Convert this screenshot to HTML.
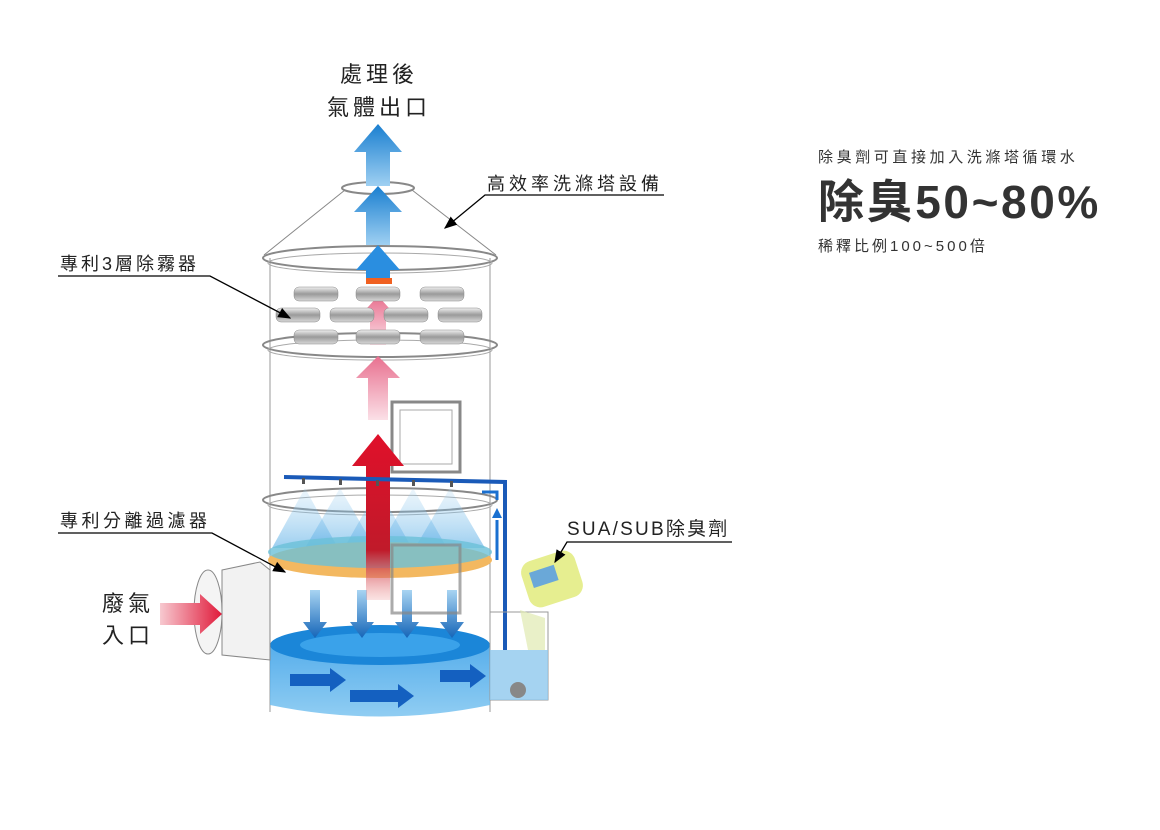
<!DOCTYPE html>
<html><head><meta charset="utf-8"><style>
html,body{margin:0;padding:0;background:#fff;width:1160px;height:830px;overflow:hidden}
svg{display:block}
text{font-family:"Liberation Sans","Noto Sans CJK TC",sans-serif}
</style></head><body>
<svg width="1160" height="830" viewBox="0 0 1160 830" xmlns="http://www.w3.org/2000/svg">
<defs>
<linearGradient id="bl" x1="0" y1="0" x2="0" y2="1"><stop offset="0" stop-color="#1a7fd0"/><stop offset="1" stop-color="#9fd0f2"/></linearGradient>
<linearGradient id="pk" x1="0" y1="0" x2="0" y2="1"><stop offset="0" stop-color="#e8708f"/><stop offset="1" stop-color="#fbe0e7"/></linearGradient>
<linearGradient id="rd" x1="0" y1="0" x2="0" y2="1"><stop offset="0" stop-color="#e0102a"/><stop offset="0.7" stop-color="#c01a2a"/><stop offset="1" stop-color="#f0a0a0" stop-opacity="0.3"/></linearGradient>
<linearGradient id="gr" x1="0" y1="0" x2="0" y2="1"><stop offset="0" stop-color="#f0f0f0"/><stop offset="0.5" stop-color="#9a9a9a"/><stop offset="1" stop-color="#d8d8d8"/></linearGradient>
<linearGradient id="wt" x1="0" y1="0" x2="0" y2="1"><stop offset="0" stop-color="#3aa0e8"/><stop offset="1" stop-color="#7cc4f0"/></linearGradient>
<linearGradient id="sp" x1="0" y1="0" x2="0" y2="1"><stop offset="0" stop-color="#9fd0f0" stop-opacity="0.2"/><stop offset="1" stop-color="#5aaee6" stop-opacity="0.6"/></linearGradient>
<linearGradient id="ha" x1="0" y1="0" x2="1" y2="0"><stop offset="0" stop-color="#f7c9d0"/><stop offset="1" stop-color="#e01a3a"/></linearGradient>
<linearGradient id="da" x1="0" y1="0" x2="0" y2="1"><stop offset="0" stop-color="#a8d4f2"/><stop offset="1" stop-color="#1565b8"/></linearGradient>
<marker id="ah" markerWidth="10" markerHeight="10" refX="9" refY="5" orient="auto"><path d="M0,1 L10,5 L0,9 z" fill="#000"/></marker>
</defs>

<line x1="270" y1="258" x2="270" y2="712" stroke="#999" stroke-width="1"/>
<line x1="490" y1="258" x2="490" y2="712" stroke="#999" stroke-width="1"/>
<path d="M264,255 L345,190 M496,255 L412,190" stroke="#888" fill="none"/>
<ellipse cx="378" cy="188" rx="36" ry="6" fill="none" stroke="#888" stroke-width="2"/>
<ellipse cx="380" cy="258" rx="117" ry="12" fill="none" stroke="#888" stroke-width="2"/>
<ellipse cx="380" cy="263" rx="112" ry="10" fill="none" stroke="#aaa" stroke-width="1"/>
<ellipse cx="380" cy="345" rx="117" ry="12" fill="none" stroke="#888" stroke-width="2"/>
<ellipse cx="380" cy="350" rx="112" ry="10" fill="none" stroke="#aaa" stroke-width="1"/>
<ellipse cx="380" cy="500" rx="117" ry="12" fill="none" stroke="#888" stroke-width="2"/>
<ellipse cx="380" cy="505" rx="112" ry="10" fill="none" stroke="#aaa" stroke-width="1"/>

<g fill="url(#sp)">
<polygon points="305,488 272,548 338,548"/>
<polygon points="340,488 305,548 375,548"/>
<polygon points="378,488 343,550 413,550"/>
<polygon points="413,488 378,550 448,550"/>
<polygon points="450,488 415,548 485,548"/>
</g>
<ellipse cx="380" cy="560" rx="112" ry="18" fill="#f3b860"/>
<ellipse cx="380" cy="552" rx="112" ry="16" fill="#6cc0d8" opacity="0.8"/>

<path d="M270,645 L270,705 Q380,728 490,705 L490,645 Z" fill="url(#wt)" opacity="0.85"/>
<ellipse cx="380" cy="645" rx="110" ry="20" fill="#1b86d8"/>
<ellipse cx="380" cy="645" rx="80" ry="12" fill="#3aa2ea"/>
<g fill="#1460c0">
<polygon points="290,674 330,674 330,668 346,680 330,692 330,686 290,686"/>
<polygon points="350,690 398,690 398,684 414,696 398,708 398,702 350,702"/>
<polygon points="440,670 470,670 470,664 486,676 470,688 470,682 440,682"/>
</g>
<g fill="url(#da)">
<polygon points="310,590 320,590 320,622 327,622 315,638 303,622 310,622"/>
<polygon points="357,590 367,590 367,622 374,622 362,638 350,622 357,622"/>
<polygon points="402,590 412,590 412,622 419,622 407,638 395,622 402,622"/>
<polygon points="447,590 457,590 457,622 464,622 452,638 440,622 447,622"/>
</g>

<rect x="392" y="402" width="68" height="70" fill="none" stroke="#888" stroke-width="3"/>
<rect x="400" y="410" width="52" height="54" fill="none" stroke="#aaa"/>
<rect x="392" y="545" width="68" height="68" fill="none" stroke="#888" stroke-width="3" opacity="0.7"/>

<path d="M366,600 L366,466 L352,466 L378,434 L404,466 L390,466 L390,600 Z" fill="url(#rd)"/>
<path d="M368,420 L368,378 L356,378 L378,356 L400,378 L388,378 L388,420 Z" fill="url(#pk)"/>
<path d="M370,345 L370,318 L358,318 L378,296 L398,318 L386,318 L386,345 Z" fill="url(#pk)"/>
<rect x="366" y="278" width="26" height="6" fill="#f06020"/>

<g fill="url(#gr)" stroke="#888" stroke-width="0.5">
<rect x="294" y="287" width="44" height="14" rx="5"/>
<rect x="356" y="287" width="44" height="14" rx="5"/>
<rect x="420" y="287" width="44" height="14" rx="5"/>
<rect x="276" y="308" width="44" height="14" rx="5"/>
<rect x="330" y="308" width="44" height="14" rx="5"/>
<rect x="384" y="308" width="44" height="14" rx="5"/>
<rect x="438" y="308" width="44" height="14" rx="5"/>
<rect x="294" y="330" width="44" height="14" rx="5"/>
<rect x="356" y="330" width="44" height="14" rx="5"/>
<rect x="420" y="330" width="44" height="14" rx="5"/>
</g>

<path d="M366,278 L366,270 L356,270 L378,245 L400,270 L390,270 L390,278 Z" fill="#2a8ee0"/>
<path d="M366,245 L366,212 L354,212 L378,186 L402,212 L390,212 L390,245 Z" fill="url(#bl)"/>
<path d="M366,186 L366,152 L354,152 L378,124 L402,152 L390,152 L390,186 Z" fill="url(#bl)"/>

<path d="M284,477 L505,482 L505,650" stroke="#1a5ab8" stroke-width="4" fill="none"/>
<g fill="#555"><rect x="302" y="478" width="3" height="6"/><rect x="339" y="479" width="3" height="6"/><rect x="376" y="480" width="3" height="6"/><rect x="412" y="480" width="3" height="6"/><rect x="450" y="481" width="3" height="6"/></g>
<path d="M497,560 L497,520 M497,500 L497,492 L482,492" stroke="#1a70d0" stroke-width="3" fill="none"/>
<polygon points="492,518 502,518 497,508" fill="#1a70d0"/>

<rect x="490" y="612" width="58" height="88" fill="none" stroke="#999"/>
<rect x="490" y="650" width="58" height="50" fill="#8ec8ee" opacity="0.8"/>
<circle cx="518" cy="690" r="8" fill="#888"/>
<polygon points="520,610 545,618 545,650 528,650" fill="#dfeab0" opacity="0.7"/>
<rect x="524" y="555" width="56" height="48" rx="12" fill="#e6ee90" transform="rotate(-18 552 579)"/>
<rect x="532" y="566" width="26" height="16" fill="#6aa8d8" transform="rotate(-18 552 579)"/>

<ellipse cx="208" cy="612" rx="14" ry="42" fill="#f4f4f4" stroke="#888"/>
<polygon points="222,570 260,562 270,570 270,660 222,655" fill="#f2f2f2" stroke="#888"/>
<path d="M160,603 L200,603 L200,594 L222,614 L200,634 L200,625 L160,625 Z" fill="url(#ha)"/>

<g font-size="22" fill="#222" letter-spacing="4">
<text x="340" y="82">處理後</text>
<text x="327" y="115">氣體出口</text>
<text x="102" y="611">廢氣</text>
<text x="102" y="643">入口</text>
</g>
<g font-size="18" fill="#222">
<text x="487" y="190" letter-spacing="4">高效率洗滌塔設備</text>
<text x="60" y="270" letter-spacing="3">專利3層除霧器</text>
<text x="60" y="527" letter-spacing="3.5">專利分離過濾器</text>
<text x="567" y="535" font-size="19" letter-spacing="2.2">SUA/SUB除臭劑</text>
</g>
<g stroke="#000" stroke-width="1.3" fill="none">
<path d="M664,195 L485,195 L445,228" marker-end="url(#ah)"/>
<path d="M58,276 L210,276 L290,318" marker-end="url(#ah)"/>
<path d="M58,533 L212,533 L285,572" marker-end="url(#ah)"/>
<path d="M732,542 L567,542 L555,562" marker-end="url(#ah)"/>
</g>

<g fill="#333">
<text x="818" y="162" font-size="15" letter-spacing="3.6">除臭劑可直接加入洗滌塔循環水</text>
<text x="818" y="218" font-size="46" font-weight="bold" letter-spacing="2.6">除臭50~80%</text>
<text x="818" y="251" font-size="15" letter-spacing="3">稀釋比例100~500倍</text>
</g>
</svg>
</body></html>
